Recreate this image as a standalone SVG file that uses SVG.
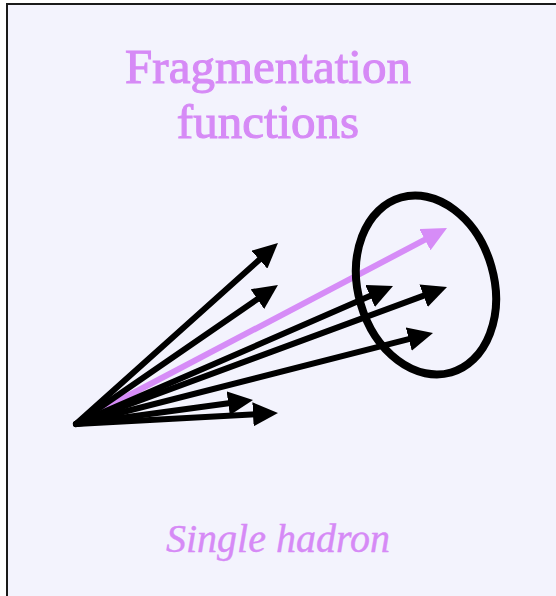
<svg xmlns="http://www.w3.org/2000/svg" width="556" height="596" viewBox="0 0 556 596">
<style>
.title{font-family:"Liberation Serif","Times New Roman",serif;font-size:49px;fill:#d68af6;stroke:#d68af6;stroke-width:1.1px;text-anchor:middle}
.sub{font-family:"Liberation Serif","Times New Roman",serif;font-size:40px;font-style:italic;fill:#d68af6;stroke:#d68af6;stroke-width:0.4px;text-anchor:middle}
.blk{stroke:#000;stroke-width:6;stroke-linecap:round;fill:none;marker-end:url(#ah)}
.pur{stroke:#d68cf7;stroke-width:6;stroke-linecap:round;fill:none;marker-end:url(#ahp)}
</style>
<defs>
<marker id="ah" markerUnits="userSpaceOnUse" markerWidth="25" markerHeight="24" viewBox="0 0 25 24" refX="6" refY="12" orient="auto"><path d="M0,0 L25,12 L0,24 z" fill="#000"/></marker>
<marker id="ahp" markerUnits="userSpaceOnUse" markerWidth="25" markerHeight="24" viewBox="0 0 25 24" refX="6" refY="12" orient="auto"><path d="M0,0 L25,12 L0,24 z" fill="#d68cf7"/></marker>
</defs>
<rect x="7" y="4" width="560" height="600" fill="#f3f3fd" stroke="#1a1a1a" stroke-width="2"/>
<g id="title"><text class="title" x="268" y="83">Fragmentation</text><text class="title" x="268" y="138">functions</text></g>
<g id="connectors">
<line class="pur" x1="80" y1="421" x2="430.2" y2="236.9"/>
<line class="blk" x1="76" y1="424" x2="263.8" y2="255.7"/>
<line class="blk" x1="76" y1="424" x2="262.3" y2="295.7"/>
<line class="blk" x1="76" y1="424" x2="375.6" y2="293.6"/>
<line class="blk" x1="76" y1="424" x2="429.2" y2="293.6"/>
<line class="blk" x1="76" y1="424" x2="414.6" y2="337.7"/>
<line class="blk" x1="76" y1="424" x2="234.2" y2="402.5"/>
<line class="blk" x1="76" y1="424" x2="259" y2="414"/>
</g>
<g id="hadron-ellipse"><ellipse cx="426" cy="285" rx="68" ry="91" transform="rotate(-16 426 285)" fill="none" stroke="#000" stroke-width="8"/></g>
<g id="label"><text class="sub" x="278" y="552">Single hadron</text></g>
</svg>
